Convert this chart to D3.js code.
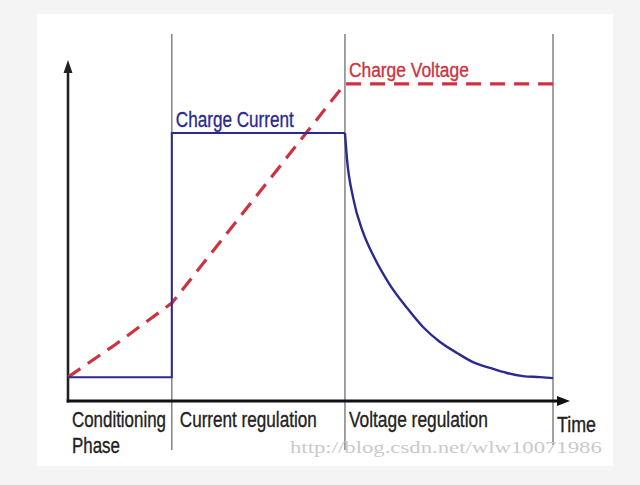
<!DOCTYPE html>
<html>
<head>
<meta charset="utf-8">
<script src="https://cdn.jsdelivr.net/npm/d3@7/dist/d3.min.js"></script>
<style>
  html, body { margin: 0; padding: 0; background: #f4f4f4; }
  svg { display: block; }
</style>
</head>
<body>
<svg id="chart" width="640" height="485"></svg>
<script>
// ---- Data (time units 0..100, value units 0..100) ----
const phaseBoundaries = [21.4, 57.1, 100];
const phaseLabels = ["Conditioning", "Current regulation", "Voltage regulation"];
const phaseLabel2 = ["Phase", "", ""];
const seriesNames = ["Charge Current", "Charge Voltage"];
const axisLabel = "Time";

// Charge current: conditioning step, constant current, then decay
const currentStepT = [0, 21.4, 21.4, 57.1];
const currentStepV = [7.0, 7.0, 78.6, 78.6];
const currentDecayT = [57.1, 57.5, 58.8, 60.8, 62.9, 66.4, 69.9, 73.2, 76.7, 80.2, 83.5, 87.0, 90.5, 93.8, 97.3, 100];
const currentDecayV = [78.6, 71.3, 59.5, 49.6, 42.8, 34.0, 27.3, 21.7, 17.3, 14.1, 11.4, 9.7, 8.2, 7.3, 7.0, 6.7];

// Charge voltage: rising then constant
const voltageT = [0, 10, 21.4, 57.1, 100];
const voltageV = [7.0, 16.8, 28.7, 93.0, 93.0];

const watermark = "http://blog.csdn.net/wlw10071986";

// ---- Drawing ----
const svg = d3.select("#chart");
const x = d3.scaleLinear().domain([0, 100]).range([68, 553]);
const y = d3.scaleLinear().domain([0, 100]).range([401, 60]);

const blue = "#2a2a90";
const red = "#cc3340";
const font = "'Liberation Sans', Arial, sans-serif";

// white panel
svg.append("rect").attr("x", 37).attr("y", 14).attr("width", 576).attr("height", 452).attr("fill", "#ffffff");

// phase separator lines
const sepBottoms = [450, 450, 445];
svg.selectAll("line.sep").data(phaseBoundaries).enter().append("line")
  .attr("class", "sep")
  .attr("x1", d => x(d)).attr("x2", d => x(d))
  .attr("y1", 34).attr("y2", (d, i) => sepBottoms[i])
  .attr("stroke", "#8a8a8a").attr("stroke-width", 1.6);

// axes
const yAxisTop = 100;
const xAxisEnd = 103.5;
svg.append("line").attr("x1", x(0)).attr("x2", x(0)).attr("y1", y(0) + 1.5).attr("y2", y(yAxisTop) + 10)
  .attr("stroke", "#222").attr("stroke-width", 2.6);
svg.append("path")
  .attr("d", `M${x(0)},${y(yAxisTop)} L${x(0) - 4.5},${y(yAxisTop) + 13} L${x(0) + 4.5},${y(yAxisTop) + 13} Z`)
  .attr("fill", "#222");
svg.append("line").attr("x1", x(0) - 1.3).attr("x2", x(xAxisEnd) - 10).attr("y1", y(0)).attr("y2", y(0))
  .attr("stroke", "#111").attr("stroke-width", 3.2);
svg.append("path")
  .attr("d", `M${x(xAxisEnd)},${y(0)} L${x(xAxisEnd) - 13},${y(0) - 5} L${x(xAxisEnd) - 13},${y(0) + 5} Z`)
  .attr("fill", "#111");

// voltage (dashed)
const vLine = d3.line().x(d => x(d[0])).y(d => y(d[1])).curve(d3.curveLinear);
svg.append("path")
  .datum(voltageT.map((t, i) => [t, voltageV[i]]))
  .attr("d", vLine)
  .attr("fill", "none").attr("stroke", red).attr("stroke-width", 3.2)
  .attr("stroke-dasharray", "15,9");

// current
const cLine = d3.line().x(d => x(d[0])).y(d => y(d[1]));
svg.append("path")
  .datum(currentStepT.map((t, i) => [t, currentStepV[i]]))
  .attr("d", cLine)
  .attr("fill", "none").attr("stroke", blue).attr("stroke-width", 2);
svg.append("path")
  .datum(currentDecayT.map((t, i) => [t, currentDecayV[i]]))
  .attr("d", cLine.curve(d3.curveMonotoneX))
  .attr("fill", "none").attr("stroke", blue).attr("stroke-width", 2.4);

// labels: condensed by a horizontal scale so the box matches the drawn width
function label(txt, px, py, len, color, size, fam, weight) {
  const t = svg.append("text").attr("x", 0).attr("y", 0).text(txt)
    .attr("font-family", fam || font).attr("font-size", size).attr("fill", color);
  if (weight) t.attr("stroke", color).attr("stroke-width", weight);
  const natural = t.node().getComputedTextLength() || len;
  t.attr("transform", `translate(${px},${py}) scale(${len / natural},1)`);
  return t;
}
label(seriesNames[0], x(21.4) + 4, 126.5, 118, blue, 22, null, 0.35);
label(seriesNames[1], x(57.1) + 4, 77, 120, red, 21, null, 0.35);

// phase labels
const phaseStarts = [0, 21.4, 57.1];
const phaseOffsets = [4, 8, 4];
const phaseWidths = [94, 137, 139];
phaseLabels.forEach((p, i) => label(p, x(phaseStarts[i]) + phaseOffsets[i], 427, phaseWidths[i], "#222", 22, null, 0.35));
label(phaseLabel2[0], x(0) + 4, 452.5, 48, "#222", 22, null, 0.35);
label(axisLabel, x(100) + 4, 432, 39, "#222", 22, null, 0.35);

// watermark
label(watermark, 290, 453, 312, "#cacaca", 17, "'Liberation Serif', 'DejaVu Serif', serif", 0);
</script>
</body>
</html>
